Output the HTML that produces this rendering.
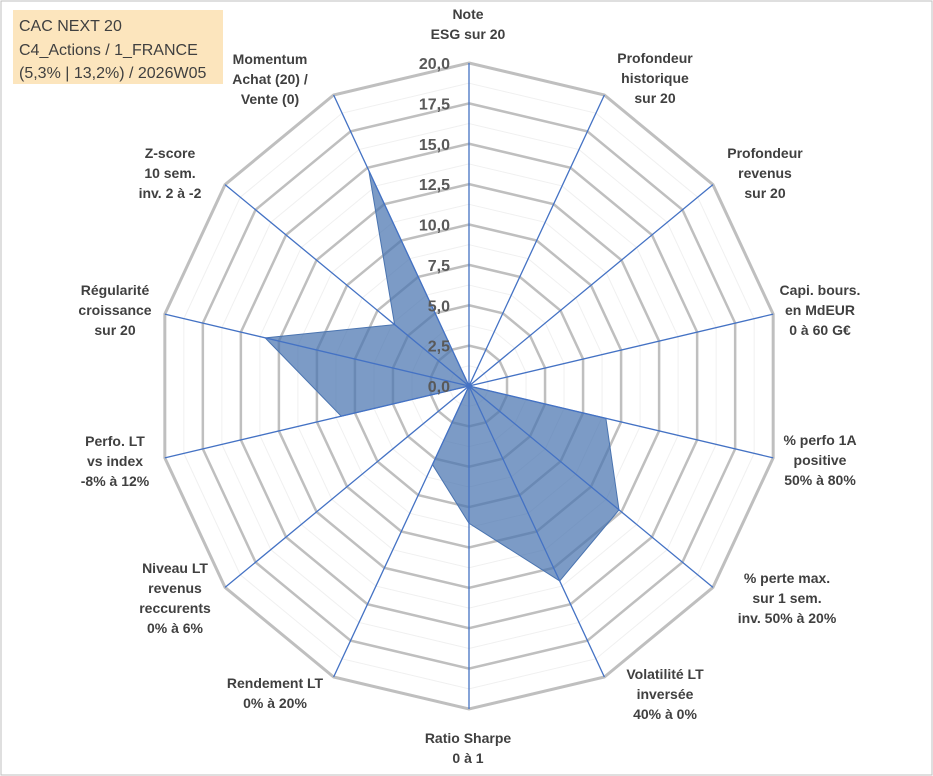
<!DOCTYPE html>
<html><head><meta charset="utf-8"><style>
body{margin:0;background:#fff;}
svg{display:block;font-family:"Liberation Sans",sans-serif;}
</style></head><body>
<svg id="chart" width="933" height="776" viewBox="0 0 933 776">
<rect x="1" y="1" width="931" height="774" fill="#fff" stroke="#bfbfbf"/>
<rect x="13" y="10" width="210" height="74" fill="#fce5bd"/>
<text x="19" y="31" font-size="16" fill="#404040">CAC NEXT 20</text>
<text x="19" y="55" font-size="16" fill="#404040">C4_Actions / 1_FRANCE</text>
<text x="19" y="78" font-size="16" fill="#404040">(5,3% | 13,2%) / 2026W05</text>
<g id="grid"></g><g id="series"></g><g id="axes"></g><g id="ticks"></g><g id="labels"></g>
</svg>
<script>
const categories=[["Note","ESG sur 20"],["Profondeur","historique","sur 20"],["Profondeur","revenus","sur 20"],["Capi. bours.","en MdEUR","0 à 60 G€"],["% perfo 1A","positive","50% à 80%"],["% perte max.","sur 1 sem.","inv. 50% à 20%"],["Volatilité LT","inversée","40% à 0%"],["Ratio Sharpe","0 à 1"],["Rendement LT","0% à 20%"],["Niveau LT","revenus","reccurents","0% à 6%"],["Perfo. LT","vs index","-8% à 12%"],["Régularité","croissance","sur 20"],["Z-score","10 sem.","inv. 2 à -2"],["Momentum","Achat (20) /","Vente (0)"]];
const values=[0,0,0,0,9.0,12.3,13.4,8.5,5.4,0,8.4,13.4,6.1,14.8];
const tickLabels=["0,0","2,5","5,0","7,5","10,0","12,5","15,0","17,5","20,0"];
const tickValues=[0,2.5,5,7.5,10,12.5,15,17.5,20];
const maxV=20;
const cx=469,cy=386,Rx=312,Ry=323,N=categories.length;
const labelPos=[[468,24],[655,78],[765,173],[820,310],[820,460],[787,598],[665,694],[468,748],[275,693],[175,598],[115,461],[115,310],[170,173],[270,79]];
const NS="http://www.w3.org/2000/svg";
function ang(i){return 2*Math.PI*i/N;}
function pt(i,v){const f=v/maxV;return [cx+Rx*f*Math.sin(ang(i)),cy-Ry*f*Math.cos(ang(i))];}
function mk(tag,attrs,parent){const e=document.createElementNS(NS,tag);for(const k in attrs)e.setAttribute(k,attrs[k]);parent.appendChild(e);return e;}
const grid=document.getElementById('grid');
for(let k=1;k<=16;k++){const v=k*1.25;const major=k%2===0;
 const pts=[];for(let i=0;i<N;i++)pts.push(pt(i,v).join(','));
 const g=mk('polygon',{points:pts.join(' '),fill:'none',stroke:major?'#bfbfbf':'#f0f0f0','stroke-width':major?(k===16?3:2.5):1},grid);
 
 }
const sp=values.map((v,i)=>pt(i,v).join(',')).join(' ');
const poly=mk('polygon',{points:sp,fill:'#4a74b0','fill-opacity':'0.72',stroke:'#4a74b0','stroke-width':1},document.getElementById('series'));


const axes=document.getElementById('axes'),labels=document.getElementById('labels');
for(let i=0;i<N;i++){const [x,y]=pt(i,maxV);
 const l=mk('line',{x1:cx,y1:cy,x2:x,y2:y,stroke:'#4472c4','stroke-width':1.3},axes);
 
 
 const [lx,ly]=labelPos[i];
 const lines=categories[i];const lh=20;const y0=ly-(lines.length-1)*lh/2+5;
 const t=mk('text',{x:lx,y:y0,'text-anchor':'middle','font-size':14,'font-weight':'bold',fill:'#404040'},labels);
 
 
 lines.forEach((s,j)=>{const ts=mk('tspan',{x:lx,y:y0+j*lh},t);ts.textContent=s;});}
const ticks=document.getElementById('ticks');
tickValues.forEach((v,j)=>{const t=mk('text',{x:cx-19,y:cy-Ry*v/maxV+6,'text-anchor':'end','font-size':16,'font-weight':'bold',fill:'#595959'},ticks);
 
 
 t.textContent=tickLabels[j];});
</script>
</body></html>
